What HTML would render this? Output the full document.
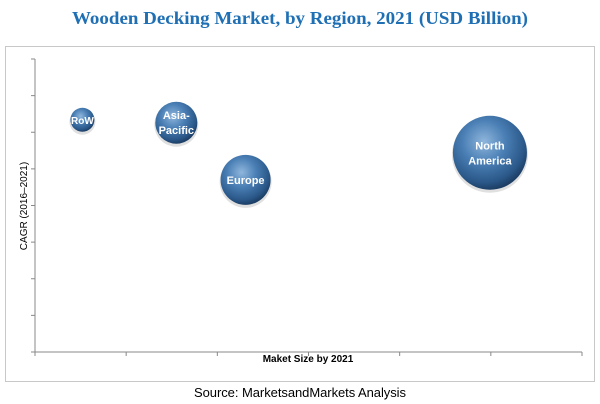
<!DOCTYPE html>
<html><head><meta charset="utf-8"><style>
body{margin:0;background:#fff;width:600px;height:404px;overflow:hidden}
svg{display:block}
</style></head><body>
<svg id="chart" width="600" height="404" xmlns="http://www.w3.org/2000/svg">
<defs>
<radialGradient id="ball" cx="0.42" cy="0.35" r="0.65">
<stop offset="0" stop-color="#8fb6dc"/>
<stop offset="0.45" stop-color="#4a7fb5"/>
<stop offset="0.85" stop-color="#2a5788"/>
<stop offset="1" stop-color="#1d3f66"/>
</radialGradient>
</defs>
<text x="300" y="24" text-anchor="middle" font-family="Liberation Serif, serif" font-weight="bold" font-size="18" fill="#1f6fb4" textLength="456" lengthAdjust="spacingAndGlyphs">Wooden Decking Market, by Region, 2021 (USD Billion)</text>
<rect x="5.5" y="46.5" width="589" height="335" fill="#fff" stroke="#c8c8c8"/>
<g id="axes"></g>
<g id="bubbles"></g>
<text x="308" y="362" text-anchor="middle" font-family="Liberation Sans, sans-serif" font-size="10" font-weight="bold" fill="#000">Maket Size by 2021</text>
<text transform="translate(27,206) rotate(-90)" text-anchor="middle" font-family="Liberation Sans, sans-serif" font-size="10" fill="#000">CAGR (2016–2021)</text>
<text x="300" y="397" text-anchor="middle" font-family="Liberation Sans, sans-serif" font-size="13" fill="#000" textLength="212">Source:  MarketsandMarkets  Analysis</text>
</svg>
<script>
const regions = ["RoW", "Asia-Pacific", "Europe", "North America"];
const labelLines = [["RoW"], ["Asia-", "Pacific"], ["Europe"], ["North", "America"]];
const marketSize = [0.52, 1.55, 2.31, 4.99];
const cagr = [6.34, 6.26, 4.7, 5.44];
const bubbleSize = [1.44, 4.41, 6.25, 13.7];
const xTicks = [0, 1, 2, 3, 4, 5, 6];
const yTicks = [0, 1, 2, 3, 4, 5, 6, 7, 8];

const X0 = 35, X1 = 582, Y0 = 352, Y1 = 59;
const xScale = v => X0 + (v - 0) / 6 * (X1 - X0);
const yScale = v => Y0 - (v - 0) / 8 * (Y0 - Y1);
const rScale = v => Math.sqrt(v) * 10;
const NS = "http://www.w3.org/2000/svg";
const axes = document.getElementById("axes");
function mk(tag, attrs, parent){const e=document.createElementNS(NS,tag);for(const k in attrs)e.setAttribute(k,attrs[k]);parent.appendChild(e);return e;}

const xa = mk("line",{x1:X0,y1:Y0,x2:X1,y2:Y0,stroke:"#888"},axes);


const ya = mk("line",{x1:X0,y1:Y0,x2:X0,y2:Y1,stroke:"#888"},axes);


xTicks.forEach(t=>{
  const l = mk("line",{x1:xScale(t),y1:Y0,x2:xScale(t),y2:Y0+4,stroke:"#888"},axes);
  
  
});
yTicks.forEach(t=>{
  const l = mk("line",{x1:X0-4,y1:yScale(t),x2:X0,y2:yScale(t),stroke:"#888"},axes);
  
  
});

const bg = document.getElementById("bubbles");
regions.forEach((r,i)=>{
  const cx = xScale(marketSize[i]), cy = yScale(cagr[i]), rad = rScale(bubbleSize[i]);
  const g = mk("g",{},bg);
  
  
  mk("circle",{cx:cx,cy:cy+2,r:rad+1,fill:"#000",opacity:0.12},g);
  mk("circle",{cx:cx,cy:cy,r:rad,fill:"url(#ball)"},g);
  const lines = labelLines[i];
  const fs = rad < 15 ? 10 : 11;
  lines.forEach((ln,j)=>{
    const t = mk("text",{x:cx,y:cy + (j-(lines.length-1)/2)*15 + 4,"text-anchor":"middle","font-family":"Liberation Sans, sans-serif","font-size":fs,"font-weight":"bold",fill:"#fff"},g);
    t.textContent = ln;
  });
});
</script>
</body></html>
